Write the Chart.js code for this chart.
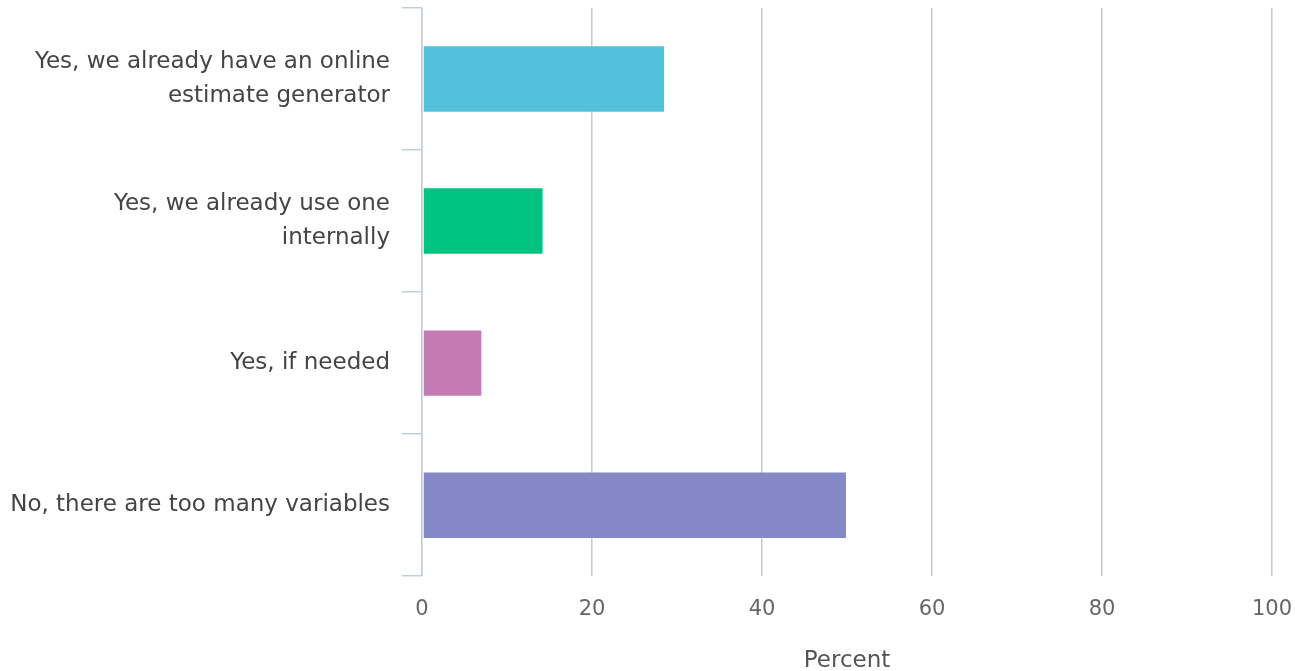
<!DOCTYPE html>
<html>
<head>
<meta charset="utf-8">
<script src="https://cdn.jsdelivr.net/npm/chart.js@4"></script>
<style>
  html, body { margin: 0; padding: 0; background: #fff; }
  #wrap { width: 1295px; height: 671px; }
</style>
</head>
<body>
<div id="wrap"><canvas id="answers"></canvas></div>
<script>
// answer options (line-broken as in the survey chart)
const answers = [
    ['Yes, we already have an online', 'estimate generator'],
    ['Yes, we already use one', 'internally'],
    'Yes, if needed',
    'No, there are too many variables'
];
const percents = [28.6, 14.3, 7.1, 50.0];
const barColors = ['#53c1dc', '#00c382', '#c47bb3', '#8588c6'];
const xTicks = [0, 20, 40, 60, 80, 100];

const FONT = "'DejaVu Sans', sans-serif";

const ctx = document.getElementById("answers");
new Chart(ctx, {
    type: 'bar',
    data: {
        labels: answers,
        datasets: [{
            label: 'Percent',
            data: percents,
            backgroundColor: barColors,
            borderColor: 'rgba(255,255,255,0.5)',
            borderWidth: 1,
            borderSkipped: false,
            barPercentage: 0.475,
            categoryPercentage: 1.0
        }]
    },
    options: {
        indexAxis: 'y',
        maintainAspectRatio: false,
        responsive: true,
        animation: false,
        layout: { padding: { top: 8, right: 23, bottom: -4, left: 0 } },
        plugins: {
            legend: { display: false },
            tooltip: { enabled: false }
        },
        scales: {
            x: {
                min: 0,
                max: 100,
                afterBuildTicks: (scale) => { scale.ticks = xTicks.map(v => ({ value: v })); },
                afterFit: (scale) => { scale.paddingLeft = 0; scale.paddingRight = 0; },
                grid: { color: '#c8c8c8', lineWidth: 1.5, drawTicks: false },
                border: { display: false },
                ticks: {
                    color: '#666',
                    font: { family: FONT, size: 21 },
                    padding: 21
                },
                title: {
                    display: true,
                    text: 'Percent',
                    color: '#555',
                    font: { family: FONT, size: 23 },
                    padding: { top: 4, bottom: 0 }
                }
            },
            y: {
                afterFit: (scale) => {
                    scale.width = 422;
                    scale.paddingTop = 0;
                    scale.paddingBottom = 0;
                },
                grid: {
                    offset: true,
                    drawOnChartArea: false,
                    tickLength: 20,
                    color: '#c0cfdf',
                    lineWidth: 1.5
                },
                border: { color: '#c0cfdf', width: 1.5 },
                ticks: {
                    color: '#444',
                    font: { family: FONT, size: 23, lineHeight: 1.5 },
                    padding: 12
                }
            }
        }
    }
});
</script>
</body>
</html>
